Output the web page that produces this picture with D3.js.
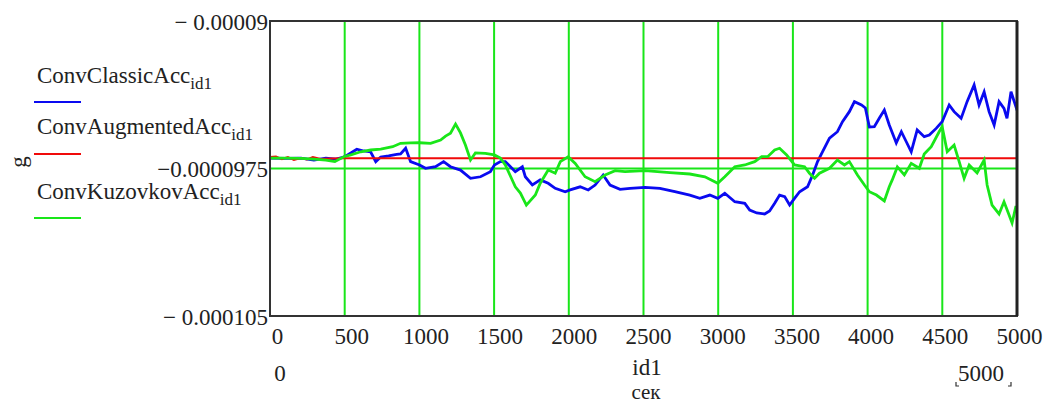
<!DOCTYPE html>
<html>
<head>
<meta charset="utf-8">
<script src="https://cdn.jsdelivr.net/npm/d3@7"></script>
<style>
  html, body { margin: 0; padding: 0; background: #fff; }
  svg { display: block; font-family: "Liberation Serif", "Times New Roman", serif; }
</style>
</head>
<body>
<svg id="chart" width="1046" height="403"></svg>
<script>
// Accelerations are listed in units of 1e-5 g.
const UNIT = 1e-5;

// ConvClassicAcc (blue)
const classicT = [0,107,207,294,374,441,494,541,581,628,674,708,741,794,848,874,908,941,1001,1041,1108,1162,1208,1275,1342,1409,1475,1502,1542,1575,1642,1689,1709,1756,1809,1862,1909,1976,2009,2076,2130,2176,2230,2276,2343,2410,2510,2610,2710,2810,2877,2944,2997,3044,3111,3178,3211,3258,3311,3344,3378,3411,3445,3478,3511,3545,3598,3632,3665,3698,3745,3798,3832,3878,3912,3959,3985,4012,4045,4079,4112,4145,4192,4226,4259,4292,4332,4379,4413,4459,4499,4546,4579,4626,4666,4713,4746,4780,4813,4847,4880,4913,4933,4960,4993,5000];
const classicAcc = [-9.697,-9.699,-9.697,-9.707,-9.697,-9.702,-9.692,-9.671,-9.652,-9.661,-9.666,-9.715,-9.692,-9.686,-9.678,-9.676,-9.647,-9.715,-9.732,-9.749,-9.741,-9.715,-9.741,-9.758,-9.800,-9.792,-9.766,-9.732,-9.715,-9.715,-9.766,-9.741,-9.792,-9.834,-9.808,-9.825,-9.851,-9.868,-9.859,-9.843,-9.859,-9.834,-9.783,-9.834,-9.856,-9.851,-9.846,-9.851,-9.868,-9.885,-9.902,-9.885,-9.902,-9.876,-9.919,-9.927,-9.961,-9.976,-9.981,-9.966,-9.927,-9.885,-9.893,-9.936,-9.902,-9.868,-9.843,-9.783,-9.715,-9.665,-9.596,-9.563,-9.512,-9.461,-9.410,-9.427,-9.442,-9.539,-9.537,-9.493,-9.453,-9.529,-9.620,-9.563,-9.614,-9.665,-9.554,-9.588,-9.580,-9.546,-9.512,-9.427,-9.461,-9.495,-9.410,-9.325,-9.427,-9.360,-9.461,-9.529,-9.410,-9.444,-9.495,-9.360,-9.436,-9.420];

// ConvAugmentedAcc (red)
const augmentedT = [0,40,80,120,160,207,247,287,340,407,494,5000];
const augmentedAcc = [-9.692,-9.689,-9.702,-9.692,-9.707,-9.697,-9.704,-9.692,-9.702,-9.699,-9.698,-9.698];

// ConvKuzovkovAcc (green)
const kuzovkovT = [0,107,207,294,374,434,494,541,607,674,741,821,874,941,1001,1075,1142,1175,1208,1242,1275,1308,1342,1375,1442,1502,1542,1575,1609,1642,1676,1716,1776,1809,1862,1909,1943,1996,2043,2109,2176,2243,2310,2376,2510,2677,2810,2911,2997,3044,3111,3178,3244,3291,3331,3378,3411,3458,3511,3578,3611,3645,3678,3745,3798,3845,3878,3932,3979,4012,4059,4112,4145,4165,4199,4246,4292,4346,4379,4426,4479,4499,4533,4579,4613,4646,4680,4733,4780,4800,4833,4880,4913,4947,4967,4993,5000];
const kuzovkovAcc = [-9.697,-9.697,-9.699,-9.702,-9.707,-9.715,-9.690,-9.681,-9.665,-9.656,-9.651,-9.639,-9.622,-9.620,-9.619,-9.622,-9.605,-9.585,-9.571,-9.524,-9.569,-9.631,-9.707,-9.671,-9.673,-9.681,-9.697,-9.732,-9.788,-9.843,-9.875,-9.936,-9.885,-9.825,-9.758,-9.774,-9.715,-9.690,-9.724,-9.792,-9.817,-9.783,-9.761,-9.766,-9.761,-9.771,-9.778,-9.792,-9.825,-9.792,-9.741,-9.732,-9.715,-9.690,-9.690,-9.656,-9.647,-9.681,-9.732,-9.741,-9.774,-9.800,-9.774,-9.749,-9.707,-9.732,-9.715,-9.783,-9.834,-9.868,-9.885,-9.915,-9.843,-9.808,-9.742,-9.783,-9.724,-9.749,-9.676,-9.639,-9.563,-9.537,-9.665,-9.631,-9.715,-9.800,-9.732,-9.773,-9.707,-9.834,-9.936,-9.981,-9.919,-9.986,-10.027,-9.941,-9.960];

// Axis ticks and labels
const xTicks = [0,500,1000,1500,2000,2500,3000,3500,4000,4500,5000];
const xGrid = [500,1000,1500,2000,2500,3000,3500,4000,4500];
const yTicks = [-9.0, -9.75, -10.5];
const yTickLabels = ["− 0.00009", "−0.0000975", "− 0.000105"];
const yMarker = -9.75;

const seriesNames = ["ConvClassicAcc", "ConvAugmentedAcc", "ConvKuzovkovAcc"];
const seriesColors = ["#0a0af0", "#f00a0a", "#19e619"];

const svg = d3.select("#chart");
const plot = { left: 270, right: 1017, top: 21, bottom: 316 };
const FONT = 23;

const x = d3.scaleLinear().domain([0, 5000]).range([plot.left, plot.right]);
const y = d3.scaleLinear().domain([-10.5 * UNIT, -9.0 * UNIT]).range([plot.bottom, plot.top]);

svg.append("defs").append("clipPath").attr("id", "plotClip")
  .append("rect")
  .attr("x", plot.left).attr("y", plot.top)
  .attr("width", plot.right - plot.left).attr("height", plot.bottom - plot.top);

// Vertical grid lines
svg.append("g").selectAll("line").data(xGrid).join("line")
  .attr("x1", d => x(d)).attr("x2", d => x(d))
  .attr("y1", plot.top).attr("y2", plot.bottom)
  .attr("stroke", "#19e619").attr("stroke-width", 2);

// Horizontal marker line
svg.append("line")
  .attr("x1", plot.left).attr("x2", plot.right)
  .attr("y1", y(yMarker * UNIT)).attr("y2", y(yMarker * UNIT))
  .attr("stroke", "#19e619").attr("stroke-width", 2);

// Traces
const toPoints = (ts, vs) => ts.map((t, i) => ({ t, v: vs[i] * UNIT }));
const line = d3.line().x(d => x(d.t)).y(d => y(d.v));
const traces = [
  toPoints(classicT, classicAcc),
  toPoints(augmentedT, augmentedAcc),
  toPoints(kuzovkovT, kuzovkovAcc)
];
const traceG = svg.append("g").attr("clip-path", "url(#plotClip)");
traces.forEach((pts, i) => {
  traceG.append("path").datum(pts)
    .attr("d", line)
    .attr("fill", "none")
    .attr("stroke", seriesColors[i])
    .attr("stroke-width", i === 1 ? 2 : 2.8)
    .attr("stroke-linejoin", "miter");
});

// Frame
svg.append("rect")
  .attr("x", plot.left).attr("y", plot.top)
  .attr("width", plot.right - plot.left).attr("height", plot.bottom - plot.top)
  .attr("fill", "none").attr("stroke", "#333").attr("stroke-width", 2);
svg.append("line")
  .attr("x1", plot.right).attr("x2", plot.right)
  .attr("y1", plot.top).attr("y2", plot.bottom)
  .attr("stroke", "#222").attr("stroke-width", 3);

// X axis labels
const xAxis = d3.axisBottom(x).tickValues(xTicks).tickSize(0).tickPadding(0)
  .tickFormat(d3.format("d"));
const gx = svg.append("g").attr("transform", `translate(0,${plot.bottom})`).call(xAxis);
gx.select(".domain").remove();
gx.selectAll("text")
  .attr("font-family", "Liberation Serif, serif")
  .attr("font-size", FONT).attr("fill", "#222")
  .attr("y", 28).attr("dy", 0)
  .attr("dx", d => 7 - 5 * d / 5000);

// Y axis labels
const yAxis = d3.axisLeft(y).tickValues(yTicks.map(v => v * UNIT)).tickSize(0).tickPadding(0)
  .tickFormat((d, i) => yTickLabels[i]);
const gy = svg.append("g").attr("transform", `translate(${plot.left - 2},0)`).call(yAxis);
gy.select(".domain").remove();
gy.selectAll("text")
  .attr("font-family", "Liberation Serif, serif")
  .attr("font-size", FONT).attr("fill", "#222")
  .attr("dy", "0.35em");

// Range and variable labels under the axis
const txt = (s, px, py, anchor = "middle", size = FONT) =>
  svg.append("text").attr("x", px).attr("y", py).attr("text-anchor", anchor)
    .attr("font-size", size).attr("fill", "#222").text(s);
txt("0", 280, 381);
txt("id1", 647, 375);
txt("сек", 646, 399, "middle", 21);
txt("5000", 981, 381);
svg.append("path")
  .attr("d", "M956,382 L956,386 L959,386 M1008,386 L1011,386 L1011,382")
  .attr("fill", "none").attr("stroke", "#333").attr("stroke-width", 1.2);

// Y variable name
svg.append("text")
  .attr("transform", "translate(26,162) rotate(-90)")
  .attr("text-anchor", "middle").attr("font-size", FONT).attr("fill", "#222")
  .text("g");

// Legend
const legendY = [83, 134, 199];
const legendLineY = [102, 154, 218];
seriesNames.forEach((name, i) => {
  const t = svg.append("text").attr("x", 37).attr("y", legendY[i])
    .attr("font-size", FONT).attr("fill", "#222");
  t.append("tspan").text(name);
  t.append("tspan").attr("font-size", 17).attr("dy", 6).text("id1");
  svg.append("line")
    .attr("x1", 34).attr("x2", 81)
    .attr("y1", legendLineY[i]).attr("y2", legendLineY[i])
    .attr("stroke", seriesColors[i]).attr("stroke-width", 2);
});
</script>
</body>
</html>
